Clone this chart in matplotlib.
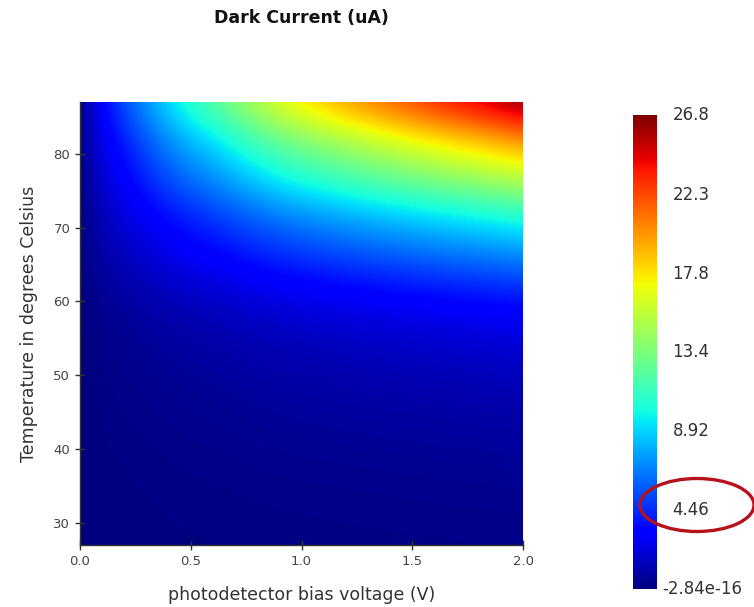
import numpy as np
import matplotlib
matplotlib.use("Agg")
import matplotlib.pyplot as plt
from matplotlib.patches import Ellipse

# Bias voltage grid (V) and temperature grid (deg C)
voltages = [0.0, 0.1, 0.2, 0.3, 0.4, 0.5, 0.6, 0.7, 0.8, 0.9, 1.0,
            1.1, 1.2, 1.3, 1.4, 1.5, 1.6, 1.7, 1.8, 1.9, 2.0]
temperatures = [27, 32, 37, 42, 47, 52, 57, 62, 67, 72, 77, 82, 87]

# Dark current (uA): rows = temperatures, columns = voltages
dark_current = [
    [0, 0.026, 0.041, 0.056, 0.07, 0.082, 0.092, 0.104, 0.115, 0.126, 0.134, 0.142, 0.149, 0.156, 0.162, 0.169, 0.175, 0.181, 0.187, 0.193, 0.2],
    [0, 0.043, 0.068, 0.092, 0.116, 0.135, 0.152, 0.172, 0.19, 0.208, 0.222, 0.234, 0.246, 0.257, 0.268, 0.279, 0.289, 0.299, 0.309, 0.319, 0.33],
    [0, 0.065, 0.103, 0.14, 0.175, 0.205, 0.23, 0.26, 0.288, 0.315, 0.336, 0.355, 0.373, 0.39, 0.406, 0.423, 0.438, 0.454, 0.468, 0.484, 0.5],
    [0, 0.104, 0.164, 0.224, 0.28, 0.328, 0.368, 0.416, 0.46, 0.504, 0.538, 0.568, 0.596, 0.624, 0.65, 0.676, 0.701, 0.726, 0.748, 0.774, 0.8],
    [0, 0.15, 0.236, 0.322, 0.403, 0.472, 0.529, 0.598, 0.661, 0.725, 0.773, 0.817, 0.857, 0.897, 0.934, 0.972, 1.007, 1.043, 1.075, 1.112, 1.15],
    [0, 0.221, 0.349, 0.476, 0.595, 0.697, 0.782, 0.884, 0.978, 1.071, 1.142, 1.207, 1.267, 1.326, 1.38, 1.437, 1.489, 1.542, 1.59, 1.644, 1.7],
    [0, 0.338, 0.533, 0.728, 0.91, 1.066, 1.196, 1.352, 1.495, 1.638, 1.747, 1.846, 1.937, 2.028, 2.111, 2.197, 2.278, 2.358, 2.431, 2.514, 2.6],
    [0, 0.585, 0.923, 1.26, 1.575, 1.845, 2.07, 2.34, 2.588, 2.835, 3.024, 3.195, 3.353, 3.51, 3.654, 3.803, 3.942, 4.082, 4.208, 4.352, 4.5],
    [0, 0.975, 1.538, 2.1, 2.625, 3.075, 3.45, 3.9, 4.313, 4.725, 5.04, 5.325, 5.588, 5.85, 6.09, 6.338, 6.57, 6.803, 7.013, 7.253, 7.5],
    [0, 1.404, 2.214, 3.024, 3.78, 4.428, 4.968, 5.616, 6.21, 6.804, 7.258, 7.668, 8.046, 8.424, 8.77, 9.126, 9.461, 9.796, 10.1, 10.44, 10.8],
    [0, 2.054, 3.239, 4.424, 5.53, 6.478, 7.268, 8.216, 9.085, 9.954, 10.62, 11.22, 11.77, 12.32, 12.83, 13.35, 13.84, 14.33, 14.77, 15.28, 15.8],
    [0, 2.626, 4.141, 5.656, 7.07, 8.282, 9.292, 10.5, 11.62, 12.73, 13.57, 14.34, 15.05, 15.76, 16.4, 17.07, 17.7, 18.32, 18.89, 19.53, 20.2],
    [0, 3.484, 5.494, 7.504, 9.38, 10.99, 12.33, 13.94, 15.41, 16.88, 18.01, 19.03, 19.97, 20.9, 21.76, 22.65, 23.48, 24.31, 25.06, 25.92, 26.8],
]

cbar_min = -2.84e-16
cbar_max = 26.8
cbar_ticks = [cbar_max, 22.3, 17.8, 13.4, 8.92, 4.46, cbar_min]
cbar_labels = ["26.8", "22.3", "17.8", "13.4", "8.92", "4.46", "-2.84e-16"]

x_ticks = [0.0, 0.5, 1.0, 1.5, 2.0]
y_ticks = [30, 40, 50, 60, 70, 80]

W, H = 754, 607
fig = plt.figure(figsize=(W / 100, H / 100), dpi=100)
fig.patch.set_facecolor("white")

ax = fig.add_axes([80 / W, 1 - 545 / H, (523 - 80) / W, (545 - 102) / H])
dv = voltages[1] - voltages[0]
dt = temperatures[1] - temperatures[0]
ax.imshow(np.array(dark_current), origin="lower", aspect="auto", cmap="jet",
          vmin=cbar_min, vmax=cbar_max, interpolation="bicubic",
          interpolation_stage="data",
          extent=[voltages[0] - dv / 2, voltages[-1] + dv / 2,
                  temperatures[0] - dt / 2, temperatures[-1] + dt / 2])
ax.set_xlim(voltages[0], voltages[-1])
ax.set_ylim(temperatures[0], temperatures[-1])
ax.set_xticks(x_ticks)
ax.set_xticklabels(["%.1f" % v for v in x_ticks])
ax.set_yticks(y_ticks)
for s in ["top", "right"]:
    ax.spines[s].set_visible(False)
for s in ["left", "bottom"]:
    ax.spines[s].set_color("#333333")
    ax.spines[s].set_linewidth(1.0)
ax.tick_params(direction="inout", length=7, width=1.0, colors="#333333",
               labelsize=9.5, labelcolor="#444444")
ax.set_xlabel("photodetector bias voltage (V)", fontsize=12.5, color="#333333", labelpad=13)
ax.set_ylabel("Temperature in degrees Celsius", fontsize=12.5, color="#333333", labelpad=11)

fig.text(301 / W, 1 - 18 / H, "Dark Current (uA)", ha="center", va="center",
         fontsize=12.5, fontweight="bold", color="#111111")

# Colorbar
cax = fig.add_axes([633 / W, 1 - 589 / H, (657 - 633) / W, (589 - 115) / H])
grad = np.linspace(cbar_min, cbar_max, 256).reshape(-1, 1)
cax.imshow(grad, aspect="auto", origin="lower", cmap="jet",
           vmin=cbar_min, vmax=cbar_max,
           extent=[0, 1, cbar_min, cbar_max])
cax.set_xlim(0, 1)
cax.set_ylim(cbar_min, cbar_max)
cax.set_xticks([])
cax.set_yticks([])
for s in cax.spines.values():
    s.set_visible(False)
for val, lab in zip(cbar_ticks, cbar_labels):
    xoff = 1.65 if not lab.startswith("-") else 1.2
    cax.text(xoff, val, lab, transform=cax.get_yaxis_transform(),
             ha="left", va="center", fontsize=12, color="#333333")

# Red ellipse annotation around the 4.46 label
ell = Ellipse((697 / W, 1 - 505 / H), 114 / W, 53 / H, transform=fig.transFigure,
              fill=False, edgecolor="#b5121b", linewidth=2.4)
fig.patches.append(ell)

fig.savefig("out.png", dpi=100, facecolor="white")
